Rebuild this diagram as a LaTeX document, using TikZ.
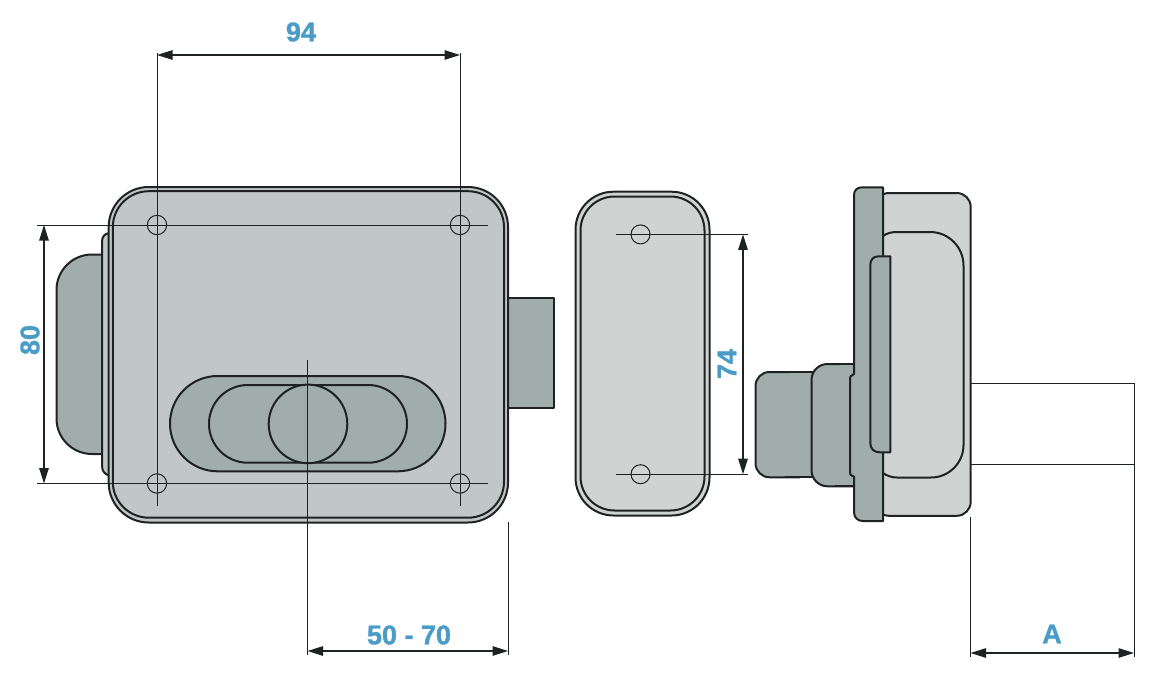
\documentclass[tikz,border=0pt]{standalone}
\usepackage{fontspec}
\setmainfont{Liberation Sans}[BoldFeatures={FakeBold=1.3}]
\usetikzlibrary{arrows.meta}
\definecolor{bodygrey}{HTML}{C1C7C6}
\definecolor{darkgrey}{HTML}{A0ADAA}
\definecolor{lightgrey}{HTML}{CFD4D2}
\definecolor{dimblue}{HTML}{4A9CC6}
\definecolor{ink}{HTML}{1E2222}
\tikzset{
  part/.style={draw=ink,line width=2pt,line join=round},
  hole/.style={draw=ink,line width=1pt},
  guide/.style={draw=ink,line width=1pt},
  dimline/.style={draw=ink,line width=1.1pt,{Triangle[length=15.5pt,width=9.5pt,fill=ink]}-{Triangle[length=15.5pt,width=9.5pt,fill=ink]}},
  dimtext/.style={text=dimblue,font=\fontsize{27}{27}\selectfont\bfseries,inner sep=0pt}
}
\begin{document}
\begin{tikzpicture}[x=1pt,y=-1pt]
\useasboundingbox (0,0) rectangle (1156,677);
% ---------- front view: handle, plate, body
\draw[part,fill=darkgrey] (104,254.5) -- (92,254.5) arc[start angle=-90,end angle=-180,radius=35.5] -- (56.5,418.5) arc[start angle=180,end angle=90,radius=35.5] -- (104,454) -- cycle;
\draw[part,fill=bodygrey] (112,233) -- (109,233) .. controls (104,234) and (102,237) .. (102,242) -- (102,465) .. controls (102,471) and (104,474) .. (110,476) -- (112,476) -- cycle;
\draw[part,fill=darkgrey] (500,298.3) rectangle (554,408.3);
\draw[part,fill=bodygrey,rounded corners=40pt] (108.7,187) rectangle (508,522.5);
\draw[part,fill=bodygrey,rounded corners=36pt] (112.8,191.2) rectangle (504,517.7);
\draw[part,fill=darkgrey,rounded corners=47.6pt] (170,376) rectangle (445.5,471.3);
\draw[part,fill=darkgrey,rounded corners=38.8pt] (209,385) rectangle (407,462.7);
\draw[part,fill=darkgrey] (308,423.9) circle[radius=39.3];
\foreach \n/\x/\y in {a/157/225,b/460/225,c/157/483.5,d/460/483.5}
  \draw[hole] (\x,\y) circle[radius=9.7];
% ---------- strike plate
\draw[part,fill=lightgrey,rounded corners=38pt] (575.5,191.7) rectangle (709.5,515.5);
\draw[part,fill=lightgrey,rounded corners=34pt] (580.5,196.5) rectangle (704.5,510.5);
\draw[hole] (640.5,234.4) circle[radius=9.5];
\draw[hole] (640.5,474.2) circle[radius=9.5];
% ---------- side view
\draw[part,fill=darkgrey,rounded corners=14pt] (800,372) -- (755.5,372) -- (755.5,477.3) -- (800,477.3);
\fill[darkgrey] (790,373) rectangle (815,476.4);
\draw[part] (785,372) -- (815,372) (785,477.3) -- (815,477.3);
\draw[part,fill=darkgrey,rounded corners=16pt] (858,364) -- (811.5,364) -- (811.5,486.3) -- (858,486.3);
\fill[darkgrey] (840,365) rectangle (858,485.4);
\draw[part] (835,364) -- (856,364) (835,486.3) -- (856,486.3);
\draw[part,fill=lightgrey,rounded corners=14pt] (875,193) -- (970.7,193) -- (970.7,515.8) -- (875,515.8) -- cycle;
\draw[part] (883,236) .. controls (887,233) and (892,232) .. (897,232) -- (930,232) arc[start angle=-90,end angle=0,radius=33.5] -- (963.5,445) arc[start angle=0,end angle=90,radius=32.5] -- (897,477.5) .. controls (892,477.5) and (887,476) .. (883,473);
\draw[part,fill=darkgrey] (883,187.3) -- (862,187.3) .. controls (857,187.3) and (854,190.5) .. (854,195) -- (854,374) -- (852.5,375) .. controls (850.5,375.5) and (850,377) .. (850,379) -- (850,472) .. controls (850,474.5) and (850.5,475.5) .. (852.5,476) -- (854,476.5) -- (854,512) .. controls (854,518) and (858,521) .. (863,521) -- (883,521) -- cycle;
\draw[part,fill=darkgrey] (890.3,256.3) -- (878.5,256.3) .. controls (873,256.3) and (870.3,260) .. (870.3,265) -- (870.3,443) .. controls (870.3,449) and (874,452.3) .. (880,452.3) -- (890.3,452.3) -- cycle;
% ---------- guide points
\coordinate (g94lt) at (157,53);   \coordinate (g94lb) at (157,506);
\coordinate (g94rt) at (460,53);   \coordinate (g94rb) at (460,506);
\coordinate (g80tl) at (37,225);   \coordinate (g80tr) at (488,225);
\coordinate (g80bl) at (37,483.5); \coordinate (g80br) at (488,483.5);
\coordinate (g74tl) at (616,234.4);\coordinate (g74tr) at (748,234.4);
\coordinate (g74bl) at (616,474.2);\coordinate (g74br) at (748,474.2);
\coordinate (gct) at (307.5,360);  \coordinate (gcb) at (307.5,655);
\coordinate (ger) at (508,522);    \coordinate (geb) at (508,655);
\coordinate (gal) at (970.5,517);  \coordinate (galb) at (970.5,657);
\coordinate (gart) at (1134,383);  \coordinate (garb) at (1134,657);
\coordinate (gas) at (971,383);    \coordinate (gasb) at (971,464);
\coordinate (garm) at (1134,464);
\draw[guide] (g94lt) -- (g94lb);
\draw[guide] (g94rt) -- (g94rb);
\draw[guide] (g80tl) -- (g80tr);
\draw[guide] (g80bl) -- (g80br);
\draw[guide] (g74tl) -- (g74tr);
\draw[guide] (g74bl) -- (g74br);
\draw[guide] (gct) -- (gcb);
\draw[guide] (ger) -- (geb);
\draw[guide] (gal) -- (galb);
\draw[guide] (gart) -- (garb);
\draw[guide] (gas) -- (gart);
\draw[guide] (gasb) -- (garm);
% ---------- dimensions
\coordinate (d94a) at (157,55);   \coordinate (d94b) at (460,55);
\coordinate (d80a) at (44,225);   \coordinate (d80b) at (44,483.5);
\coordinate (d74a) at (743,234.4);\coordinate (d74b) at (743,474.2);
\coordinate (d50a) at (307.5,651);\coordinate (d50b) at (508,651);
\coordinate (dAa) at (970.5,653); \coordinate (dAb) at (1134,653);
\draw[dimline] (d94a) -- (d94b);
\draw[dimline] (d80a) -- (d80b);
\draw[dimline] (d74a) -- (d74b);
\draw[dimline] (d50a) -- (d50b);
\draw[dimline] (dAa) -- (dAb);
\node[dimtext] (t94) at (301,32) {94};
\node[dimtext,rotate=90] (t80) at (30,340) {80};
\node[dimtext,rotate=90] (t74) at (727,364) {74};
\node[dimtext] (t50) at (409,635) {50 - 70};
\node[dimtext] (tA) at (1052,634) {A};
\end{tikzpicture}
\end{document}
